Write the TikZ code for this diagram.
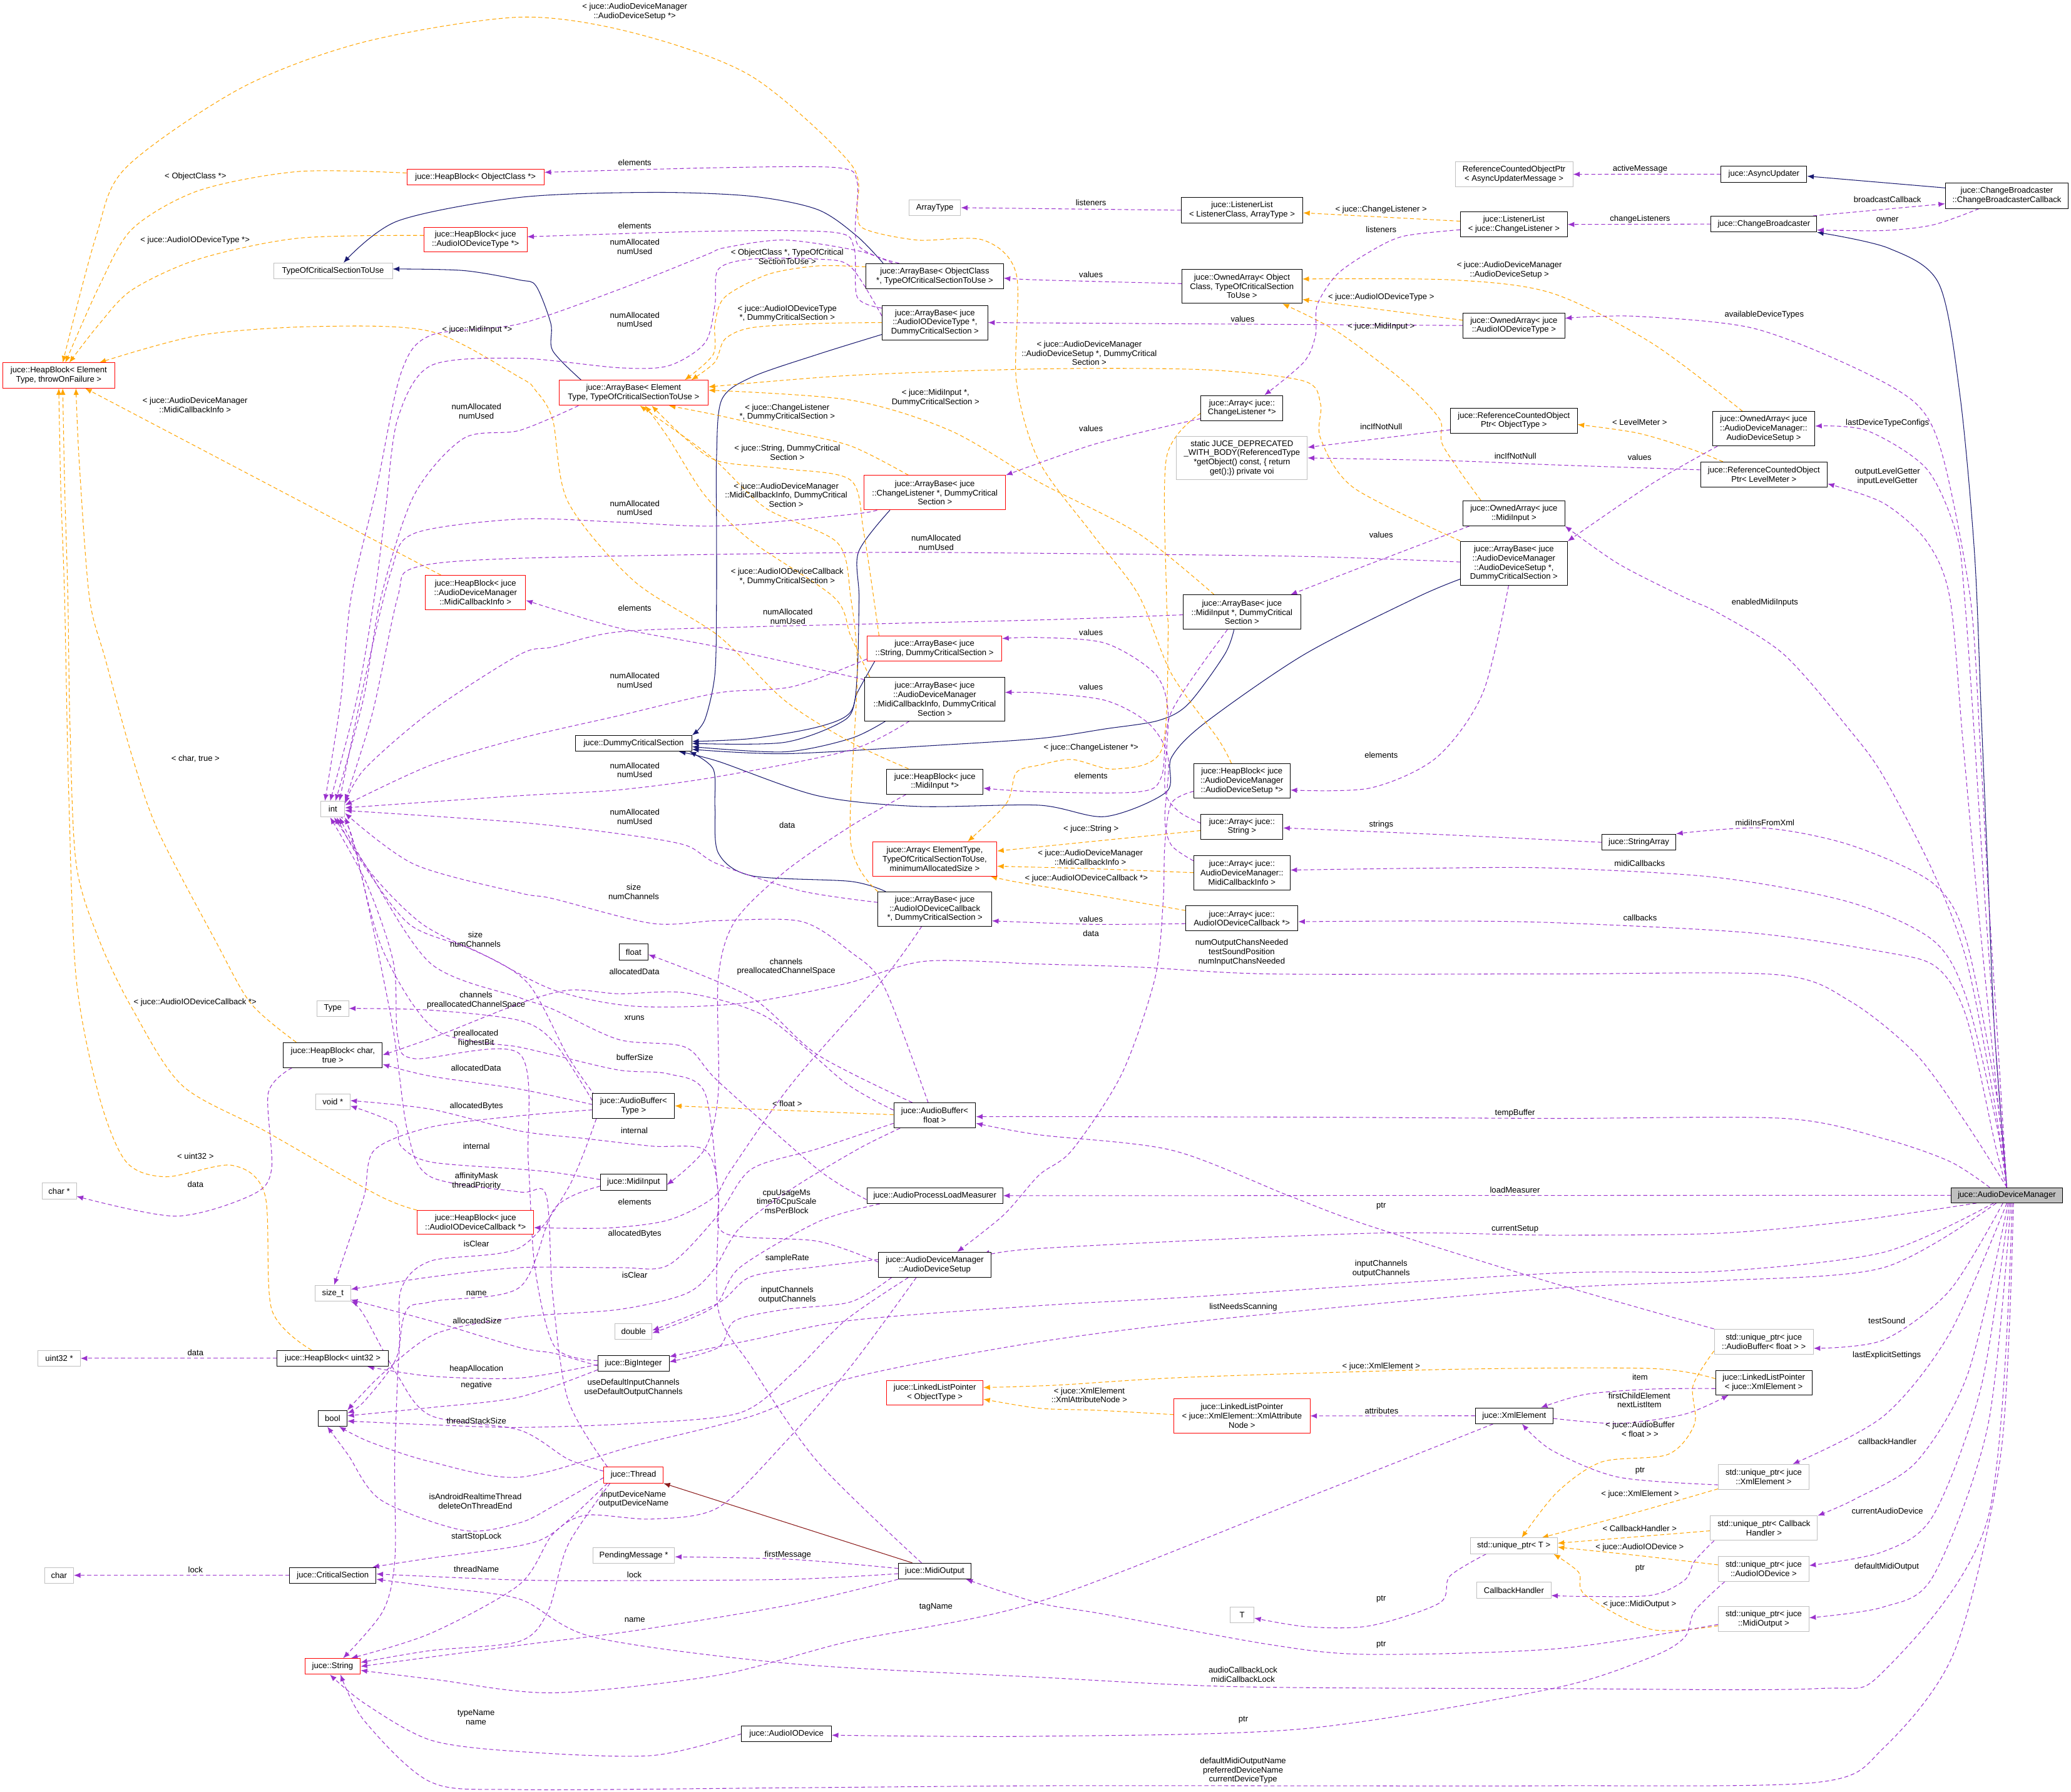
\documentclass[tikz,border=0pt]{standalone}
\usepackage{fontspec}
\setmainfont{Liberation Sans}
\usetikzlibrary{arrows.meta}
\definecolor{usec}{HTML}{9A32CD}
\definecolor{tplc}{HTML}{FFA500}
\definecolor{inhc}{HTML}{191970}
\definecolor{pinhc}{HTML}{8B1A1A}
\definecolor{grayb}{HTML}{BFBFBF}
\definecolor{redb}{HTML}{FF0000}
\pgfdeclarelayer{bg}
\pgfdeclarelayer{edges}
\pgfsetlayers{bg,edges,main}
\tikzset{
  every node/.style={font=\fontsize{6.2}{7}\selectfont},
  cls/.style={draw=black, line width=0.45pt, rectangle, inner sep=0pt, align=center, fill=white},
  gcls/.style={cls, draw=grayb},
  rcls/.style={cls, draw=redb},
  lbl/.style={align=center, inner sep=0pt},
  edgebase/.style={line width=0.5pt},
  usedge/.style={edgebase, draw=usec, dash pattern=on 3pt off 2pt, -{Latex[length=5pt,width=4pt]}},
  tpledge/.style={edgebase, draw=tplc, dash pattern=on 3pt off 2pt, -{Latex[length=5pt,width=4pt]}},
  inhedge/.style={edgebase, draw=inhc, -{Latex[length=5pt,width=4pt]}},
  pinhedge/.style={edgebase, draw=pinhc, -{Latex[length=5pt,width=4pt]}},
}
\begin{document}
\begin{tikzpicture}[x=1pt,y=-1pt]
\begin{pgfonlayer}{bg}
\fill[white] (0,0) rectangle (1568,1357);
\end{pgfonlayer}
\useasboundingbox (0,0) rectangle (1568,1357);

% ---------------- nodes ----------------
\node[cls, fill=grayb, minimum width=84pt, minimum height=11.5pt] (adm) at (1519.4,905.2) {juce::AudioDeviceManager};
\node[cls, minimum width=93pt, minimum height=19pt] (cbc) at (1519.4,148.3) {juce::ChangeBroadcaster\\::ChangeBroadcasterCallback};
\node[cls, minimum width=65pt, minimum height=12pt] (async) at (1335.5,131.9) {juce::AsyncUpdater};
\node[cls, minimum width=80pt, minimum height=12pt] (cb) at (1335.5,169.7) {juce::ChangeBroadcaster};
\node[gcls, minimum width=89pt, minimum height=19pt] (rcoau) at (1146.3,132) {ReferenceCountedObjectPtr\\< AsyncUpdaterMessage >};
\node[cls, minimum width=81pt, minimum height=19pt] (llcl) at (1146.2,170) {juce::ListenerList\\< juce::ChangeListener >};
\node[cls, minimum width=92pt, minimum height=19pt] (llgen) at (940.4,159.2) {juce::ListenerList\\< ListenerClass, ArrayType >};
\node[gcls, minimum width=39pt, minimum height=12pt] (arraytype) at (707.8,157.3) {ArrayType};
\node[cls, minimum width=91pt, minimum height=26pt] (oagen) at (940.3,216.8) {juce::OwnedArray< Object\\Class, TypeOfCriticalSection\\ToUse >};
\node[cls, minimum width=77pt, minimum height=19pt] (oaiodt) at (1146.2,246.5) {juce::OwnedArray< juce\\::AudioIODeviceType >};
\node[cls, minimum width=77.5pt, minimum height=26pt] (oaads) at (1335.3,324.7) {juce::OwnedArray< juce\\::AudioDeviceManager::\\AudioDeviceSetup >};
\node[cls, minimum width=96pt, minimum height=19pt] (rcolm) at (1335.5,359.4) {juce::ReferenceCountedObject\\Ptr< LevelMeter >};
\node[cls, minimum width=96pt, minimum height=19pt] (rcogen) at (1146.2,318.5) {juce::ReferenceCountedObject\\Ptr< ObjectType >};
\node[gcls, minimum width=99pt, minimum height=33pt] (static) at (940.3,346.8) {static JUCE\_DEPRECATED\\\_WITH\_BODY(ReferencedType\\*getObject() const, \{ return\\get();\}) private voi};
\node[cls, minimum width=62pt, minimum height=19pt] (arrcl) at (940.3,309) {juce::Array< juce::\\ChangeListener *>};
\node[cls, minimum width=77pt, minimum height=19pt] (oami) at (1146.2,388.7) {juce::OwnedArray< juce\\::MidiInput >};
\node[cls, minimum width=81pt, minimum height=33pt] (abads) at (1146.2,426.6) {juce::ArrayBase< juce\\::AudioDeviceManager\\::AudioDeviceSetup *,\\DummyCriticalSection >};
\node[cls, minimum width=89pt, minimum height=26pt] (abmi) at (940.3,463.6) {juce::ArrayBase< juce\\::MidiInput *, DummyCritical\\Section >};
\node[cls, minimum width=73pt, minimum height=26pt] (hbads) at (940.3,591.3) {juce::HeapBlock< juce\\::AudioDeviceManager\\::AudioDeviceSetup *>};
\node[cls, minimum width=62pt, minimum height=19pt] (arrstr) at (940.3,626) {juce::Array< juce::\\String >};
\node[cls, minimum width=73pt, minimum height=26pt] (arrmci) at (940.3,660.9) {juce::Array< juce::\\AudioDeviceManager::\\MidiCallbackInfo >};
\node[cls, minimum width=85pt, minimum height=19pt] (arraiodc) at (940.2,695.5) {juce::Array< juce::\\AudioIODeviceCallback *>};
\node[cls, minimum width=56pt, minimum height=12pt] (strarr) at (1240.8,637.9) {juce::StringArray};
\node[rcls, minimum width=113pt, minimum height=19pt] (abgen) at (479.7,297.5) {juce::ArrayBase< Element\\Type, TypeOfCriticalSectionToUse >};
\node[cls, minimum width=104pt, minimum height=19pt] (aboc) at (707.7,209.1) {juce::ArrayBase< ObjectClass\\*, TypeOfCriticalSectionToUse >};
\node[cls, minimum width=80pt, minimum height=26pt] (abiodt) at (707.9,244.3) {juce::ArrayBase< juce\\::AudioIODeviceType *,\\DummyCriticalSection >};
\node[rcls, minimum width=107pt, minimum height=26pt] (abcl) at (707.8,373.1) {juce::ArrayBase< juce\\::ChangeListener *, DummyCritical\\Section >};
\node[rcls, minimum width=102pt, minimum height=19pt] (abstr) at (707.5,491.1) {juce::ArrayBase< juce\\::String, DummyCriticalSection >};
\node[cls, minimum width=106pt, minimum height=33pt] (abmci) at (707.7,529.4) {juce::ArrayBase< juce\\::AudioDeviceManager\\::MidiCallbackInfo, DummyCritical\\Section >};
\node[cls, minimum width=73pt, minimum height=19pt] (hbmi) at (707.8,591.9) {juce::HeapBlock< juce\\::MidiInput *>};
\node[rcls, minimum width=94pt, minimum height=26pt] (arrgen) at (707.7,650.5) {juce::Array< ElementType,\\TypeOfCriticalSectionToUse,\\minimumAllocatedSize >};
\node[cls, minimum width=86pt, minimum height=26pt] (abaiodc) at (707.8,688.4) {juce::ArrayBase< juce\\::AudioIODeviceCallback\\*, DummyCriticalSection >};
\node[cls, minimum width=62pt, minimum height=19pt] (abfloat) at (707.7,844.7) {juce::AudioBuffer<\\float >};
\node[cls, minimum width=103pt, minimum height=12pt] (aplm) at (707.8,905.5) {juce::AudioProcessLoadMeasurer};
\node[cls, minimum width=85pt, minimum height=19pt] (ads) at (707.7,957.8) {juce::AudioDeviceManager\\::AudioDeviceSetup};
\node[rcls, minimum width=73pt, minimum height=18.5pt] (llpgen) at (707.8,1054.6) {juce::LinkedListPointer\\< ObjectType >};
\node[cls, minimum width=55pt, minimum height=12pt] (midiout) at (707.7,1189.8) {juce::MidiOutput};
\node[cls, minimum width=68pt, minimum height=12pt] (aiod) at (595.5,1313.1) {juce::AudioIODevice};
\node[cls, minimum width=88pt, minimum height=12pt] (dcs) at (479.8,563) {juce::DummyCriticalSection};
\node[cls, minimum width=22pt, minimum height=12pt] (float) at (479.7,720.9) {float};
\node[cls, minimum width=62pt, minimum height=19pt] (abtype) at (479.7,837.5) {juce::AudioBuffer<\\Type >};
\node[cls, minimum width=50pt, minimum height=12pt] (midiin) at (479.7,895.3) {juce::MidiInput};
\node[gcls, minimum width=28pt, minimum height=12pt] (double) at (479.7,1008.5) {double};
\node[cls, minimum width=54pt, minimum height=12pt] (bigint) at (479.6,1032.4) {juce::BigInteger};
\node[rcls, minimum width=45pt, minimum height=12pt] (thread) at (479.6,1117.1) {juce::Thread};
\node[gcls, minimum width=62pt, minimum height=12pt] (pending) at (479.8,1178) {PendingMessage *};
\node[rcls, minimum width=104pt, minimum height=12pt] (hboc) at (360,134) {juce::HeapBlock< ObjectClass *>};
\node[rcls, minimum width=78pt, minimum height=18.5pt] (hbiodt) at (360,181.3) {juce::HeapBlock< juce\\::AudioIODeviceType *>};
\node[rcls, minimum width=76pt, minimum height=26pt] (hbmci) at (360,448.7) {juce::HeapBlock< juce\\::AudioDeviceManager\\::MidiCallbackInfo >};
\node[rcls, minimum width=88pt, minimum height=18pt] (hbaiodc) at (360,925.7) {juce::HeapBlock< juce\\::AudioIODeviceCallback *>};
\node[gcls, minimum width=90pt, minimum height=12pt] (tocs) at (252.1,205.2) {TypeOfCriticalSectionToUse};
\node[gcls, minimum width=18pt, minimum height=12pt] (int) at (252,612.8) {int};
\node[gcls, minimum width=24pt, minimum height=12pt] (type) at (252,763.7) {Type};
\node[cls, minimum width=75pt, minimum height=19pt] (hbchar) at (252,799) {juce::HeapBlock< char,\\true >};
\node[gcls, minimum width=26pt, minimum height=12pt] (voidp) at (252,834.5) {void *};
\node[gcls, minimum width=27pt, minimum height=12pt] (sizet) at (252,979.4) {size\_t};
\node[cls, minimum width=84pt, minimum height=12pt] (hbu32) at (251.9,1028.7) {juce::HeapBlock< uint32 >};
\node[cls, minimum width=22pt, minimum height=12pt] (bool) at (251.8,1074.2) {bool};
\node[cls, minimum width=65.5pt, minimum height=12pt] (cs) at (252,1193) {juce::CriticalSection};
\node[rcls, minimum width=42pt, minimum height=12pt] (string) at (251.8,1262) {juce::String};
\node[rcls, minimum width=85pt, minimum height=19pt] (hbgen) at (44.5,284.3) {juce::HeapBlock< Element\\Type, throwOnFailure >};
\node[gcls, minimum width=26pt, minimum height=12pt] (charp) at (44.8,902) {char *};
\node[gcls, minimum width=32pt, minimum height=12pt] (u32p) at (44.8,1028.7) {uint32 *};
\node[gcls, minimum width=22pt, minimum height=12pt] (char) at (44.7,1193) {char};
\node[cls, minimum width=59pt, minimum height=12pt] (xml) at (1146.4,1072.2) {juce::XmlElement};
\node[rcls, minimum width=103pt, minimum height=26pt] (llpxan) at (940.3,1072.3) {juce::LinkedListPointer\\< juce::XmlElement::XmlAttribute\\Node >};
\node[gcls, minimum width=66pt, minimum height=12pt] (uptrT) at (1146.1,1170.7) {std::unique\_ptr< T >};
\node[gcls, minimum width=56pt, minimum height=12pt] (cbh) at (1146.2,1204.3) {CallbackHandler};
\node[gcls, minimum width=18pt, minimum height=12pt] (T) at (940.4,1222.9) {T};
\node[gcls, minimum width=75pt, minimum height=19pt] (upab) at (1335.4,1016.1) {std::unique\_ptr< juce\\::AudioBuffer< float > >};
\node[cls, minimum width=73pt, minimum height=18.5pt] (llpxml) at (1335.4,1047.1) {juce::LinkedListPointer\\< juce::XmlElement >};
\node[gcls, minimum width=68.5pt, minimum height=19pt] (upxml) at (1335.3,1118.5) {std::unique\_ptr< juce\\::XmlElement >};
\node[gcls, minimum width=81pt, minimum height=18.5pt] (upcbh) at (1335.5,1157.3) {std::unique\_ptr< Callback\\Handler >};
\node[gcls, minimum width=68.5pt, minimum height=19pt] (upaiod) at (1335.3,1188.1) {std::unique\_ptr< juce\\::AudioIODevice >};
\node[gcls, minimum width=68.5pt, minimum height=19pt] (upmo) at (1335.3,1226.2) {std::unique\_ptr< juce\\::MidiOutput >};

% ---------------- edges ----------------
\begin{pgfonlayer}{edges}
% inheritance
\draw[inhedge] plot[smooth] coordinates {(adm.north) (1510,780) (1505,660) (1500,540) (1495,420) (1484,300) (1468,215) (1430,188) (cb.south east)};
\draw[inhedge] ([yshift=6pt]cbc.west) -- ([yshift=-1.5pt]async.east);
\draw[inhedge] plot[smooth] coordinates {([xshift=-39pt]aboc.north) (649,179) (619,158.7) (568.9,148.6) (493.6,145.7) (393.3,149.5) (301,167.4) ([xshift=8pt]tocs.north)};
\draw[inhedge] plot[smooth] coordinates {([xshift=17pt]abgen.north west) (418.4,265.5) (417.1,245.3) (405.8,216.5) (393.3,212) (351,204.9) ([yshift=1.5pt]tocs.east)};
\draw[inhedge] plot[smooth] coordinates {([yshift=-9pt]abiodt.west) (619,268.4) (568.9,285.7) (546.3,303) (542.5,346.3) (542.5,400) (542.5,452.5) (541.3,510.2) (533.7,544.9) (dcs.north east)};
\draw[inhedge] plot[smooth] coordinates {([xshift=-34pt]abcl.south) (650,418) (650.4,452.5) (649,510.2) (644,539.1) (619,550.6) (568.9,559.3) ([yshift=1.5pt]dcs.east)};
\draw[inhedge] plot[smooth] coordinates {([xshift=6pt]abstr.south west) (649,524.7) (640,545) (594,562.2) ([yshift=0pt]dcs.east)};
\draw[inhedge] plot[smooth] coordinates {([xshift=16pt]abmci.south west) (644,559.3) (594,569.4) ([yshift=-2.5pt]dcs.east)};
\draw[inhedge] plot[smooth] coordinates {([xshift=-6pt]abmi.south) (927.1,495.8) (899.5,533.3) (876.9,545.7) (836.8,552) (786.6,559.3) (700,565) (594,570.8) ([yshift=-4.5pt]dcs.east)};
\draw[inhedge] plot[smooth] coordinates {([yshift=-12pt]abads.west) (1072.5,452.5) (987.2,495.8) (912,547.7) (886.9,573.7) (883.1,599.7) (836.8,618.4) (786.6,609.8) (694.3,610.7) (619,602.6) (543.8,576.6) ([xshift=-10pt]dcs.south east)};
\draw[inhedge] plot[smooth] coordinates {([xshift=6pt]abaiodc.north west) (644,667.5) (568.9,663.2) (543.8,645.9) (541.3,611.2) (540,582.4) ([xshift=-2pt]dcs.south east)};
\draw[pinhedge] ([xshift=-17pt]midiout.north) -- (thread.south east);

% template instances
\draw[tpledge] plot[smooth] coordinates {([xshift=-8pt]hbads.north) (922,559.3) (886.9,510.2) (861.8,450.2) (826.7,404) (786.6,349.2) (769.5,288.6) (769.5,207.8) (744.4,181.8) (694.3,181.8) (654.1,173.2) (649,158.7) (644,124) (568.9,57.7) (480,25) (393.3,13) (276,31.7) (183,66.4) (95.3,127) (72.7,179) ([xshift=3pt]hbgen.north)};
\draw[tpledge] plot[smooth] coordinates {([yshift=3pt]hboc.west) (225.7,129.9) (150.5,144.3) (100.3,173.2) (75.2,216.5) ([xshift=5pt]hbgen.north)};
\draw[tpledge] plot[smooth] coordinates {([yshift=3pt]hbiodt.west) (225.7,180.4) (150.5,196.2) (100.3,219.3) (75.2,245.3) ([xshift=8pt]hbgen.north)};
\draw[tpledge] plot[smooth] coordinates {([xshift=-20pt]hbmi.north) (644,562) (594,530.4) (543.8,481.4) (480,440) (430,380) (418.4,317.5) (405,295) (393.3,285.7) (326,251) (238.3,247.3) (150.5,254) ([xshift=-12pt]hbgen.north east)};
\draw[tpledge] ([xshift=12pt]hbmci.north west) -- ([xshift=20pt]hbgen.south);
\draw[tpledge] plot[smooth] coordinates {([xshift=10pt]hbchar.north west) (190,760) (163,712.2) (120,630) (100.3,573.7) (80,500) (67.7,452.5) (60,350) ([xshift=13pt]hbgen.south)};
\draw[tpledge] plot[smooth] coordinates {(hbaiodc.north west) (285.9,905) (200.6,856.5) (137.9,822) (100.3,764.2) (75.2,712.2) (57.7,654.5) (53,550) (51.4,452.5) (49,370) ([xshift=3pt]hbgen.south)};
\draw[tpledge] plot[smooth] coordinates {([xshift=-16pt]hbu32.north) (205.7,991.7) (200.6,905) (175.6,882.5) (125.4,891.2) (95.3,879.6) (75,830) (57.7,741) (52,600) (48.9,452.5) (46,370) (hbgen.south)};
\draw[tpledge] plot[smooth] coordinates {([yshift=7pt]aboc.west) (619,201.4) (581.4,207.8) (548.8,225) (541.3,245.3) (540,268.4) ([xshift=-18pt]abgen.north east)};
\draw[tpledge] plot[smooth] coordinates {(abiodt.west) (619,245) (568.9,248.2) (548.8,256.9) (541.3,274.2) ([xshift=-13pt]abgen.north east)};
\draw[tpledge] plot[smooth] coordinates {([yshift=17pt]abads.west) (1024.9,369.4) (999.8,332) (999.8,306) (987.2,288.6) (912,280) (786.6,279.4) (644,284.3) ([yshift=4.5pt]abgen.east)};
\draw[tpledge] plot[smooth] coordinates {([xshift=-21pt]abmi.north) (861.8,404) (786.6,365.1) (719.3,326) (644,303) ([yshift=2pt]abgen.east)};
\draw[tpledge] plot[smooth] coordinates {([xshift=-20pt]abcl.north) (644,337.7) (594,326) (543.8,314.6) ([xshift=-30pt]abgen.south east)};
\draw[tpledge] plot[smooth] coordinates {([xshift=-42pt]abstr.north) (654.1,404) (644,363.6) (594,355) (543.8,349.2) (518.7,331.9) ([xshift=-43pt]abgen.south east)};
\draw[tpledge] plot[smooth] coordinates {([xshift=4pt]abmci.north west) (644,481.4) (631.6,452.5) (568.9,409.8) (533.7,375.2) (506.2,331.9) ([xshift=-48pt]abgen.south east)};
\draw[tpledge] plot[smooth] coordinates {(abaiodc.north west) (644,637.2) (649.1,510.2) (644.1,452.5) (634,411) (580,385) (538.8,346.3) ([xshift=-52pt]abgen.south east)};
\draw[tpledge] plot[smooth] coordinates {([yshift=-4pt]arrcl.west) (883.2,346.3) (883.2,452.5) (884.4,481.4) (879.4,567.9) (844.3,582.4) (811.7,575.2) (786.6,579.5) (769.5,585) (762,608.3) ([xshift=25pt]arrgen.north)};
\draw[tpledge] ([yshift=-3pt]arrstr.west) -- ([yshift=6pt]arrgen.east);
\draw[tpledge] plot[smooth] coordinates {(arrmci.west) (830,658) ([yshift=-5.5pt]arrgen.east)};
\draw[tpledge] plot[smooth] coordinates {([yshift=6pt]arraiodc.west) (830,678) (770,668) ([xshift=-5pt]arrgen.south east)};
\draw[tpledge] ([yshift=0.5pt]abfloat.west) -- (abtype.east);
\draw[tpledge] plot[smooth] coordinates {([xshift=-16pt]oaads.north) (1250.4,259.7) (1175,222) (1100,212) ([yshift=5.5pt]oagen.east)};
\draw[tpledge] ([yshift=4pt]oaiodt.west) -- ([yshift=-10pt]oagen.east);
\draw[tpledge] plot[smooth] coordinates {([xshift=-25pt]oami.north) (1092.6,337.7) (1090,317.5) (1062.5,288.6) (1012.3,251) ([xshift=-15pt]oagen.south east)};
\draw[tpledge] plot[smooth] coordinates {([xshift=-31pt]rcolm.north) (1280,340) (1240,328) ([yshift=-3pt]rcogen.east)};
\draw[tpledge] ([yshift=2.5pt]llcl.west) -- ([yshift=-2pt]llgen.east);
\draw[tpledge] plot[smooth] coordinates {([yshift=3pt]llpxml.west) (1250.4,1036.4) (1100,1037) (900,1043) (800,1049) ([yshift=3.8pt]llpgen.east)};
\draw[tpledge] plot[smooth] coordinates {([yshift=1pt]llpxan.west) (830,1068) (786.6,1066.5) ([yshift=-5pt]llpgen.east)};
\draw[tpledge] plot[smooth] coordinates {([yshift=-7pt]upab.west) (1281.8,1049.4) (1283,1078.3) (1263,1101.4) (1212.8,1107.1) (1179,1130) ([xshift=6pt]uptrT.north)};
\draw[tpledge] plot[smooth] coordinates {([yshift=-9pt]upxml.west) (1240,1145) ([xshift=-12pt]uptrT.north east)};
\draw[tpledge] ([yshift=-2pt]upcbh.west) -- ([yshift=2pt]uptrT.east);
\draw[tpledge] plot[smooth] coordinates {([yshift=3pt]upaiod.west) (1240,1178) ([yshift=-1pt]uptrT.east)};
\draw[tpledge] plot[smooth] coordinates {([yshift=-5pt]upmo.west) (1250.4,1234) (1200.3,1208) (1195.3,1190.8) ([xshift=-3pt]uptrT.south east)};

% usage: AudioDeviceManager (top)
\draw[usedge] plot[smooth] coordinates {(adm.north) (1512,780) (1505,670) (1499,560) (1491.7,452.5) (1471,346) (1451,306) (1401,277) (1325.7,248.2) (1237.9,239.5) ([yshift=5.5pt]oaiodt.east)};
\draw[usedge] plot[smooth] coordinates {(adm.north) (1510,780) (1502,670) (1495,560) (1487.4,452.5) (1481.2,404) (1458.6,355) (1413.5,326.1) ([yshift=2pt]oaads.east)};
\draw[usedge] plot[smooth] coordinates {(adm.north) (1507,780) (1496,670) (1486,560) (1476.2,452.5) (1458.6,409.8) (1426,381) ([yshift=-7pt]rcolm.east)};
\draw[usedge] plot[smooth] coordinates {(adm.north) (1508.8,827.7) (1488.7,726.7) (1463.6,660.3) (1426,588) (1401,553.5) (1350.8,495.8) (1300.6,464) (1275.5,452.5) (1225.4,427) (oami.south east)};
\draw[usedge] plot[smooth] coordinates {(adm.north) (1511.3,827.7) (1488.7,712.2) (1463.6,669) (1401,640) (1335.7,627.1) ([yshift=6.5pt]strarr.east)};
\draw[usedge] plot[smooth] coordinates {(adm.north) (1511.3,850) (1488.7,755.5) (1463.6,712.2) (1401,683.4) (1300.6,664.6) (1175.2,657.4) (1080,657.5) ([yshift=2pt]arrmci.east)};
\draw[usedge] plot[smooth] coordinates {(adm.north) (1511.3,870) (1488.7,770) (1466,732.4) (1426,720.9) (1325.7,706.5) (1175.2,698.7) (1080,697.5) ([yshift=-2.5pt]arraiodc.east)};
\draw[usedge] plot[smooth] coordinates {(adm.north) (1488.7,850.8) (1451,798.8) (1401,758.4) (1345.8,738.2) (1175.2,737.6) (962.2,737.6) (861.8,732.4) (786.6,730.1) (700,728) (640,745) (560,760) (480,762) (420,750) (370,725) (320,700) (280,660) ([xshift=5pt]int.south)};
\draw[usedge] plot[smooth] coordinates {([xshift=-13pt]adm.north) (1476.2,879.6) (1426,862.3) (1350.8,847) (1175.2,847) (980,846) (786.6,845.6) ([yshift=-1pt]abfloat.east)};
\draw[usedge] (adm.west) -- (aplm.east);
% usage: AudioDeviceManager (bottom)
\draw[usedge] plot[smooth] coordinates {([xshift=-23pt]adm.south) (1400,925) (1300.6,934) (1175.2,935.4) (1036.4,934) (786.6,945.5) ([yshift=6pt]ads.east)};
\draw[usedge] plot[smooth] coordinates {([xshift=-10pt]adm.south) (1426,948.4) (1300.6,962.8) (1175.2,964.3) (912,981.6) (786.6,988.8) (644,1000) (568.9,1014.8) ([yshift=5pt]bigint.east)};
\draw[usedge] plot[smooth] coordinates {([xshift=-8pt]adm.south) (1426,960) (1300,970) (1175.2,975.8) (941.3,997) (786.6,1016.2) (644,1043.6) (568.9,1072.5) (480,1095) (393.3,1118.7) (326,1107) (280,1092) ([xshift=5pt]bool.south)};
\draw[usedge] plot[smooth] coordinates {([xshift=-3pt]adm.south) (1476.2,977.2) (1426,1014.8) ([yshift=-5pt]upab.east)};
\draw[usedge] plot[smooth] coordinates {(adm.south) (1476,1010) (1426,1072.5) ([xshift=22pt]upxml.north)};
\draw[usedge] plot[smooth] coordinates {([xshift=1pt]adm.south) (1490,1040) (1451,1107) (1405,1135) (upcbh.north east)};
\draw[usedge] plot[smooth] coordinates {([xshift=2pt]adm.south) (1500,1050) (1463.6,1147.8) (1426,1175) ([yshift=2.5pt]upaiod.east)};
\draw[usedge] plot[smooth] coordinates {([xshift=3pt]adm.south) (1505,1080) (1463.6,1193.7) (1426,1217) ([yshift=1pt]upmo.east)};
\draw[usedge] plot[smooth] coordinates {([xshift=4pt]adm.south) (1505,1150) (1426,1265.8) (1375.8,1278.8) (1175.2,1278.8) (937.9,1277.4) (786.6,1270.2) (600,1260) (450,1240) (393.3,1211) (330,1202) ([yshift=-3pt]cs.east)};
\draw[usedge] plot[smooth] coordinates {([xshift=5pt]adm.south) (1515,1100) (1480,1250) (1426,1323.8) (1375.8,1349.8) (1175.2,1352.4) (980,1352.4) (786.6,1352.4) (590,1354) (393.3,1355.3) (326,1349.5) (276,1303.4) ([xshift=6pt]string.south)};

% usage: upper region
\draw[usedge] (cb.west) -- (llcl.east);
\draw[usedge] ([xshift=-3pt]cb.north east) -- ([yshift=-6pt]cbc.west);
\draw[usedge] plot[smooth] coordinates {([xshift=-21pt]cbc.south) (1463.6,170.3) (1426,174.6) ([yshift=-4.5pt]cb.east)};
\draw[usedge] (async.west) -- (rcoau.east);
\draw[usedge] (llgen.west) -- (arraytype.east);
\draw[usedge] plot[smooth] coordinates {([yshift=-4pt]llcl.west) (1062.5,178.9) (1037.4,190.5) (1012.3,207.8) (997.3,230.9) (996,254) (987.2,274.2) ([xshift=17pt]arrcl.north)};
\draw[usedge] plot[smooth] coordinates {([yshift=2pt]oagen.west) (786.6,212) ([yshift=-1.5pt]aboc.east)};
\draw[usedge] (oaiodt.west) -- (abiodt.east);
\draw[usedge] plot[smooth] coordinates {([yshift=-8pt]arrcl.west) (830,336) (abcl.north east)};
\draw[usedge] plot[smooth] coordinates {([xshift=5pt]oami.south west) (1037.4,427) ([xshift=-8pt]abmi.north east)};
\draw[usedge] plot[smooth] coordinates {([xshift=4pt]oaads.south west) (1250.4,366.5) (abads.north east)};
\draw[usedge] ([yshift=-7pt]rcogen.west) -- ([yshift=8pt]static.east);
\draw[usedge] plot[smooth] coordinates {([yshift=3.6pt]rcolm.west) (1175,352) (1100,349) (static.east)};
\draw[usedge] plot[smooth] coordinates {([xshift=-27pt]aboc.north) (649,184.7) (649.1,138.5) (634,127) (543.8,127) ([yshift=3.5pt]hboc.east)};
\draw[usedge] plot[smooth] coordinates {([yshift=11pt]abiodt.west) (649,225) (646.6,187.6) (631.6,176) (543.8,175) ([yshift=2pt]hbiodt.east)};
\draw[usedge] plot[smooth] coordinates {([yshift=-2pt]abmci.north west) (543.8,490) (468.5,475.6) ([yshift=-6pt]hbmci.east)};
\draw[usedge] plot[smooth] coordinates {([xshift=-11pt]abmi.south) (886.9,539.1) (879.4,588.1) (861.8,599.7) (786.6,599.7) ([yshift=-5pt]hbmi.east)};
\draw[usedge] plot[smooth] coordinates {([xshift=-4pt]abads.south) (1122.7,524.7) (1087.6,573.7) (1037.4,596.8) ([yshift=-7pt]hbads.east)};
\draw[usedge] plot[smooth] coordinates {([xshift=-10pt]abaiodc.south) (669.2,741) (600,820) (553.8,885.4) (540,907) (506,924) (460,930) ([yshift=-4pt]hbaiodc.east)};
\draw[usedge] plot[smooth] coordinates {([yshift=2.6pt]arrstr.west) (891.9,614.1) (881.9,596.8) (884.4,539.1) (874.4,510.2) (836.8,487.1) (786.6,482.8) ([yshift=7.5pt]abstr.east)};
\draw[usedge] plot[smooth] coordinates {([yshift=9pt]arrmci.west) (886.9,640.1) (881.9,619.9) (884.4,573.7) (869.4,547.7) (836.8,530.4) (786.6,524.7) ([yshift=5pt]abmci.east)};
\draw[usedge] plot[smooth] coordinates {([yshift=-4pt]arraiodc.west) (826,700) ([yshift=-9pt]abaiodc.east)};
\draw[usedge] plot[smooth] coordinates {(strarr.west) (1090,632) ([yshift=-1pt]arrstr.east)};
\draw[usedge] plot[smooth] coordinates {([yshift=-8pt]hbads.west) (886.9,608.3) (881.9,640) (880.6,683.4) (874.4,741) (849.3,813.3) (811.7,871) (786.6,890) (760,920) ([xshift=17pt]ads.north)};
\draw[usedge] plot[smooth] coordinates {([xshift=15pt]hbmi.south west) (644,625.7) (594,660.3) (556.3,697.8) (543.8,741) (543.8,827.7) (533.7,870) ([yshift=-2pt]midiin.east)};

% usage: to int
\draw[usedge] plot[smooth] coordinates {([xshift=-32pt]aboc.north) (650,190) (594,181.8) (548.8,187.6) (533.7,193.4) (468.5,219.3) (393.3,245.3) (326,254) (303.5,282.8) (285,370) (265.8,452.5) (258,530) ([xshift=-6pt]int.north)};
\draw[usedge] plot[smooth] coordinates {([yshift=5pt]abiodt.west) (644,202) (619,196.2) (568.9,196.2) (543.8,204) (541.3,230.9) (533.7,259.7) (506.2,277) (468.5,278.5) (393.3,271.3) (326,277) (301,317.5) (292,385) (283.4,452.5) (270,530) ([xshift=-2pt]int.north)};
\draw[usedge] plot[smooth] coordinates {([xshift=15pt]abgen.south west) (393.3,326) (351,332) (313.5,375) (288.4,452.5) (275,530) ([xshift=2pt]int.north)};
\draw[usedge] plot[smooth] coordinates {([xshift=10pt]abcl.south west) (644,389.6) (543.8,398.3) (468.5,395.4) (393.3,393.1) (313.5,404) (296,433) (275,520) ([xshift=5pt]int.north)};
\draw[usedge] plot[smooth] coordinates {([yshift=1pt]abads.west) (987.2,421.4) (786.6,419) (644,418.5) (393.3,422.8) (313.5,430) (301,452.5) (282,540) (int.north east)};
\draw[usedge] plot[smooth] coordinates {([yshift=-2pt]abmi.west) (786.6,469.5) (568.9,474.7) (468.5,478.5) (418.4,490) (393.3,495.8) (326,539) (276,582.4) ([yshift=-2pt]int.north east)};
\draw[usedge] plot[smooth] coordinates {([yshift=-8pt]abstr.west) (600,520) (543.8,524.7) (468.5,542) (393.3,559.3) (326,579.5) ([yshift=3pt]int.east)};
\draw[usedge] plot[smooth] coordinates {([xshift=34pt]abmci.south west) (644,568) (543.8,588.1) (468.5,598.2) (393.3,602.6) ([yshift=1pt]int.east)};
\draw[usedge] plot[smooth] coordinates {([yshift=5pt]abaiodc.west) (606.5,674.7) (543.8,654.5) (518.7,640) (468.5,631.4) (393.3,622.8) ([yshift=-1pt]int.east)};
\draw[usedge] plot[smooth] coordinates {([xshift=2pt,yshift=-2pt]abtype.north west) (430,800) (400,745) (360,720) (310,700) (272,650) ([xshift=3pt]int.south)};
\draw[usedge] plot[smooth] coordinates {([xshift=-5pt]abfloat.north) (669.2,746.9) (644,720.9) (606.5,697.8) (543.8,697.2) (493.6,699.3) (418.4,680.5) (393.3,676.2) (313.5,654.5) ([yshift=-3pt]int.east)};
\draw[usedge] plot[smooth] coordinates {([xshift=3pt]thread.north west) (430,1060) (418.4,980) (413.4,905) (393.3,902.7) (326,891.2) (308.5,856.5) (296,770) (265.8,631.4) ([xshift=-4pt]int.south)};
\draw[usedge] plot[smooth] coordinates {([yshift=2pt]bigint.west) (420,1020) (405,960) (400,880) (393.3,798) (313.5,801.7) (301,784.4) (298,729.6) (278,670) ([xshift=-2pt]int.south)};
\draw[usedge] plot[smooth] coordinates {([yshift=-3pt]aplm.west) (619,885.4) (543.8,819) (518.7,793) (468.5,787.3) (418.4,764.2) (393.3,755.5) (326,729.6) (276,654.5) ([xshift=1pt]int.south)};
\draw[usedge] plot[smooth] coordinates {([yshift=2pt]ads.west) (619,940) (548.8,934) (543.8,902.7) (533.7,827.7) (506.2,813.3) (468.5,810.4) (418.4,798.8) (393.3,793) (330,780) (290,720) (268,640) (int.south east)};

% usage: lower-left types
\draw[usedge] plot[smooth] coordinates {([yshift=-3pt]abtype.west) (393.3,845) (326,853.6) (283.4,871) (275.9,905) (263.3,942.6) ([xshift=1pt]sizet.north)};
\draw[usedge] plot[smooth] coordinates {([yshift=-6pt]abfloat.west) (619,870) (568.9,885.4) (543.8,920) (506.2,958) (468.5,960) (393.3,960) (326,967.1) ([yshift=3pt]sizet.east)};
\draw[usedge] plot[smooth] coordinates {([yshift=-2pt]bigint.west) (420,1025) (393.3,1020.5) (326,1000.3) ([yshift=-5pt]sizet.east)};
\draw[usedge] plot[smooth] coordinates {([yshift=3pt]thread.west) (430,1105) (393.3,1083) (326,1072) (300,1040) (275,995) (sizet.south east)};
\draw[usedge] plot[smooth] coordinates {([xshift=3pt]abtype.south west) (430,900) (393.3,945) (326,955) (303.5,977) (301,1026) (276,1061) ([yshift=4pt]bool.east)};
\draw[usedge] plot[smooth] coordinates {([xshift=5pt]abfloat.south west) (650,870) (600,900) (560,930) (540,962) (518.7,980) (468.5,991.7) (393.3,997.5) (330,1010) (290,1040) (bool.north east)};
\draw[usedge] plot[smooth] coordinates {([yshift=-5pt]bigint.west) (393.3,1058) (326,1066) ([yshift=2pt]bool.east)};
\draw[usedge] plot[smooth] coordinates {([xshift=-20pt]ads.south) (640,1000) (600,1040) (560,1070) (480,1078) (393.3,1081) (326,1079) ([yshift=-2pt]bool.east)};
\draw[usedge] plot[smooth] coordinates {([yshift=-2pt]thread.west) (420,1140) (393.3,1153.3) (351,1159) (288.4,1136) (263.3,1101.4) ([xshift=-4pt]bool.south)};
\draw[usedge] plot[smooth] coordinates {([yshift=-3pt]midiin.west) (420,915) (393.3,975) (326,985.9) (305,1000) (299,1100) (299,1180) (290,1220) ([xshift=8pt]string.north)};
\draw[usedge] plot[smooth] coordinates {([xshift=5pt]thread.south west) (430,1170) (415,1220) (393.3,1243) (326,1250) ([yshift=3pt]string.east)};
\draw[usedge] plot[smooth] coordinates {([xshift=-14pt]ads.south) (644,1035) (594,1092.7) (543.8,1141.7) (493.6,1150.4) (443.5,1147.5) (418.4,1162) (393.3,1200) (326,1237) ([xshift=14pt]string.north)};
\draw[usedge] plot[smooth] coordinates {(midiout.south west) (600,1215) (480,1235) (393.3,1246) (string.east)};
\draw[usedge] plot[smooth] coordinates {([xshift=-16pt]xml.south) (1000,1130) (786.6,1213) (644,1242.8) (543.8,1268.6) (418.4,1282) (330,1272) ([yshift=-3pt]string.east)};
\draw[usedge] plot[smooth] coordinates {(aiod.west) (493.6,1329.5) (393.3,1326.5) (326,1317.8) (276,1290) ([xshift=-2pt]string.south)};
\draw[usedge] plot[smooth] coordinates {([xshift=3pt]thread.south west) (420,1160) (393.3,1170.6) (326,1180) ([xshift=-3pt]cs.north east)};
\draw[usedge] plot[smooth] coordinates {([yshift=-2pt]midiout.west) (600,1196) (480.3,1197) (393.3,1196.6) ([yshift=1pt]cs.east)};
\draw[usedge] (cs.west) -- (char.east);
\draw[usedge] plot[smooth] coordinates {([yshift=2pt]midiin.west) (420,888) (393.3,885.4) (326,880) (303.5,868) (298.5,850.8) ([yshift=-3pt]voidp.east)};
\draw[usedge] plot[smooth] coordinates {([xshift=-10pt]midiout.north) (619,1107) (568.9,1035) (543.8,991.7) (543.8,905.1) (533.7,870.9) (493.6,868) (443.5,862.3) (393.3,856.5) (326,840) ([yshift=1pt]voidp.east)};
\draw[usedge] plot[smooth] coordinates {([yshift=4pt]abtype.west) (420,790) (393.3,772.8) (326,765) (type.east)};
\draw[usedge] plot[smooth] coordinates {([xshift=-17pt]abfloat.north) (619,798.8) (568.9,755.5) ([yshift=-2pt]float.east)};
\draw[usedge] plot[smooth] coordinates {([yshift=1pt]abtype.west) (393.3,824.8) (326,815) ([yshift=-7pt]hbchar.east)};
\draw[usedge] plot[smooth] coordinates {([yshift=4pt]abfloat.west) (640,820) (580,770) (520,752) (468.5,752.6) (431,749.8) (393.3,760) (330,785) (hbchar.east)};
\draw[usedge] plot[smooth] coordinates {([xshift=-31pt]hbchar.south) (203.1,827.7) (205.6,885.4) (190.6,905) (132.9,921) ([yshift=-4pt]charp.east)};
\draw[usedge] (hbu32.west) -- (u32p.east);
\draw[usedge] plot[smooth] coordinates {([yshift=-1pt]bigint.west) (393.3,1043.6) (326,1042.2) ([xshift=-16pt]hbu32.south east)};
\draw[usedge] plot[smooth] coordinates {([yshift=4pt]ads.west) (619,959.3) (568.9,966.7) (543.8,986.9) ([yshift=1pt]double.east)};
\draw[usedge] plot[smooth] coordinates {([xshift=10pt]aplm.south west) (620,925) (560,960) (540,990) ([yshift=-1pt]double.east)};
\draw[usedge] plot[smooth] coordinates {([xshift=10pt]ads.south west) (644,986) (594,991.7) (556.3,1000.3) (543.8,1020.5) ([yshift=1pt]bigint.east)};
\draw[usedge] plot[smooth] coordinates {([yshift=2pt]midiout.west) (600,1181) ([yshift=-1pt]pending.east)};

% usage: xml / unique_ptr region
\draw[usedge] (xml.west) -- (llpxan.east);
\draw[usedge] plot[smooth] coordinates {([yshift=-2pt]xml.east) (1225.4,1078) (1275.5,1071) ([xshift=10pt]llpxml.south west)};
\draw[usedge] plot[smooth] coordinates {([yshift=-4.5pt]llpxml.west) (1250,1052) (1200.3,1056) ([xshift=-9.5pt]xml.north east)};
\draw[usedge] plot[smooth] coordinates {([yshift=-6pt]upxml.west) (1225.4,1118.7) (1175.2,1098.5) ([xshift=6pt]xml.south)};
\draw[usedge] plot[smooth] coordinates {([xshift=-21pt]uptrT.south) (1097.6,1193.7) (1090,1213.9) (1037.4,1231.2) (990,1232) ([yshift=-2.5pt]T.east)};
\draw[usedge] plot[smooth] coordinates {([xshift=3pt]upcbh.south west) (1283,1182.2) (1275.5,1196.6) (1250.4,1208.1) (1200,1209) ([yshift=-4pt]cbh.east)};
\draw[usedge] plot[smooth] coordinates {([xshift=5pt]upaiod.south west) (1283,1220) (1275.5,1239.9) (1250,1255) (1175.2,1278.8) (987.2,1309.2) (786.6,1314.9) ([yshift=-1pt]aiod.east)};
\draw[usedge] plot[smooth] coordinates {([yshift=-4pt]upmo.west) (1179.9,1248.5) (1036.4,1252.9) (962.2,1245.6) (836.8,1222.6) (786.6,1214) ([xshift=-4pt]midiout.south east)};
\draw[usedge] plot[smooth] coordinates {(upab.north west) (1175.2,971.5) (1036.4,928.2) (974.7,905.1) (886.9,871) (786.6,859.4) ([yshift=-6pt]abfloat.east)};
\end{pgfonlayer}

% ---------------- labels ----------------
\node[lbl] (l001) at (480.6,8.9) {< juce::AudioDeviceManager\\::AudioDeviceSetup *>};
\node[lbl] (l002) at (148,133.6) {< ObjectClass *>};
\node[lbl] (l003) at (147.7,181.8) {< juce::AudioIODeviceType *>};
\node[lbl] (l004) at (361.2,249.9) {< juce::MidiInput *>};
\node[lbl] (l005) at (147.7,306.8) {< juce::AudioDeviceManager\\::MidiCallbackInfo >};
\node[lbl] (l006) at (360.7,311.4) {numAllocated\\numUsed};
\node[lbl] (l007) at (480.6,122.9) {elements};
\node[lbl] (l008) at (480.6,170.8) {elements};
\node[lbl] (l009) at (480.6,187) {numAllocated\\numUsed};
\node[lbl] (l010) at (596,194.5) {< ObjectClass *, TypeOfCritical\\SectionToUse >};
\node[lbl] (l011) at (480.6,242.1) {numAllocated\\numUsed};
\node[lbl] (l012) at (596,237.5) {< juce::AudioIODeviceType\\*, DummyCriticalSection >};
\node[lbl] (l013) at (708.3,301.3) {< juce::MidiInput *,\\DummyCriticalSection >};
\node[lbl] (l014) at (596,312.3) {< juce::ChangeListener\\*, DummyCriticalSection >};
\node[lbl] (l015) at (596,342.9) {< juce::String, DummyCritical\\Section >};
\node[lbl] (l016) at (595.2,374.9) {< juce::AudioDeviceManager\\::MidiCallbackInfo, DummyCritical\\Section >};
\node[lbl] (l017) at (480.6,384.7) {numAllocated\\numUsed};
\node[lbl] (l018) at (708.8,411) {numAllocated\\numUsed};
\node[lbl] (l019) at (596,436.7) {< juce::AudioIODeviceCallback\\*, DummyCriticalSection >};
\node[lbl] (l020) at (826,153.5) {listeners};
\node[lbl] (l021) at (1045.7,159) {< juce::ChangeListener >};
\node[lbl] (l022) at (1045.7,174) {listeners};
\node[lbl] (l023) at (826,207.8) {values};
\node[lbl] (l024) at (1142.8,204.6) {< juce::AudioDeviceManager\\::AudioDeviceSetup >};
\node[lbl] (l025) at (1045.7,225.1) {< juce::AudioIODeviceType >};
\node[lbl] (l026) at (940.8,241.8) {values};
\node[lbl] (l027) at (1045.7,247.6) {< juce::MidiInput >};
\node[lbl] (l028) at (824.7,267.5) {< juce::AudioDeviceManager\\::AudioDeviceSetup *, DummyCritical\\Section >};
\node[lbl] (l029) at (1045.7,323.2) {incIfNotNull};
\node[lbl] (l030) at (826,324.4) {values};
\node[lbl] (l031) at (1147.3,345.2) {incIfNotNull};
\node[lbl] (l032) at (1045.7,404.9) {values};
\node[lbl] (l033) at (1241.7,128.1) {activeMessage};
\node[lbl] (l034) at (1429,151.2) {broadcastCallback};
\node[lbl] (l035) at (1241.7,165.9) {changeListeners};
\node[lbl] (l036) at (1429,166.5) {owner};
\node[lbl] (l037) at (1335.7,238.4) {availableDeviceTypes};
\node[lbl] (l038) at (1241.4,320) {< LevelMeter >};
\node[lbl] (l039) at (1429,320.3) {lastDeviceTypeConfigs};
\node[lbl] (l040) at (1241.4,346.3) {values};
\node[lbl] (l041) at (1429,360.8) {outputLevelGetter\\inputLevelGetter};
\node[lbl] (l042) at (148,574.6) {< char, true >};
\node[lbl] (l043) at (359.9,711.4) {size\\numChannels};
\node[lbl] (l044) at (147.7,759.3) {< juce::AudioIODeviceCallback *>};
\node[lbl] (l045) at (360.4,757.5) {channels\\preallocatedChannelSpace};
\node[lbl] (l046) at (360.4,786.4) {preallocated\\highestBit};
\node[lbl] (l047) at (360.4,808.9) {allocatedData};
\node[lbl] (l048) at (360.7,837.8) {allocatedBytes};
\node[lbl] (l049) at (360.7,867.8) {internal};
\node[lbl] (l050) at (148,875.6) {< uint32 >};
\node[lbl] (l051) at (360.7,894.6) {affinityMask\\threadPriority};
\node[lbl] (l052) at (148,896.7) {data};
\node[lbl] (l053) at (480.6,460.3) {elements};
\node[lbl] (l054) at (596.5,466.9) {numAllocated\\numUsed};
\node[lbl] (l055) at (480.6,515.4) {numAllocated\\numUsed};
\node[lbl] (l056) at (480.6,583.2) {numAllocated\\numUsed};
\node[lbl] (l057) at (480.6,618.5) {numAllocated\\numUsed};
\node[lbl] (l058) at (596,625.1) {data};
\node[lbl] (l059) at (479.8,675.3) {size\\numChannels};
\node[lbl] (l060) at (595.2,732.2) {channels\\preallocatedChannelSpace};
\node[lbl] (l061) at (480.3,735.6) {allocatedData};
\node[lbl] (l062) at (480.3,771.1) {xruns};
\node[lbl] (l063) at (480.6,800.8) {bufferSize};
\node[lbl] (l064) at (596,835.8) {< float >};
\node[lbl] (l065) at (480.3,856.3) {internal};
\node[lbl] (l066) at (595.5,910) {cpuUsageMs\\timeToCpuScale\\msPerBlock};
\node[lbl] (l067) at (826,478.8) {values};
\node[lbl] (l068) at (826,520.3) {values};
\node[lbl] (l069) at (826,566.5) {< juce::ChangeListener *>};
\node[lbl] (l070) at (1045.7,572) {elements};
\node[lbl] (l071) at (826,587.3) {elements};
\node[lbl] (l072) at (826,627.7) {< juce::String >};
\node[lbl] (l073) at (1045.7,624.8) {strings};
\node[lbl] (l074) at (825.5,649.3) {< juce::AudioDeviceManager\\::MidiCallbackInfo >};
\node[lbl] (l075) at (822.5,665.5) {< juce::AudioIODeviceCallback *>};
\node[lbl] (l076) at (826,695.8) {values};
\node[lbl] (l077) at (826,707) {data};
\node[lbl] (l078) at (940.1,721.2) {numOutputChansNeeded\\testSoundPosition\\numInputChansNeeded};
\node[lbl] (l079) at (1147,843) {tempBuffer};
\node[lbl] (l080) at (1147,901.3) {loadMeasurer};
\node[lbl] (l081) at (1336.2,456.5) {enabledMidiInputs};
\node[lbl] (l082) at (1336.2,623.1) {midiInsFromXml};
\node[lbl] (l083) at (1241.4,653.9) {midiCallbacks};
\node[lbl] (l084) at (1241.7,695.2) {callbacks};
\node[lbl] (l085) at (360.7,942) {isClear};
\node[lbl] (l086) at (360.7,979.3) {name};
\node[lbl] (l087) at (361.2,1000.1) {allocatedSize};
\node[lbl] (l088) at (148,1024.6) {data};
\node[lbl] (l089) at (360.7,1037) {heapAllocation};
\node[lbl] (l090) at (360.7,1049.4) {negative};
\node[lbl] (l091) at (360.7,1076.2) {threadStackSize};
\node[lbl] (l092) at (359.9,1136.9) {isAndroidRealtimeThread\\deleteOnThreadEnd};
\node[lbl] (l093) at (360.7,1163.7) {startStopLock};
\node[lbl] (l094) at (148,1188.8) {lock};
\node[lbl] (l095) at (360.7,1188.2) {threadName};
\node[lbl] (l096) at (360.4,1300.5) {typeName\\name};
\node[lbl] (l097) at (480.6,910) {elements};
\node[lbl] (l098) at (480.6,934.5) {allocatedBytes};
\node[lbl] (l099) at (596,953) {sampleRate};
\node[lbl] (l100) at (480.6,965.7) {isClear};
\node[lbl] (l101) at (596,980.7) {inputChannels\\outputChannels};
\node[lbl] (l102) at (479.6,1050.8) {useDefaultInputChannels\\useDefaultOutputChannels};
\node[lbl] (l103) at (479.8,1135.4) {inputDeviceName\\outputDeviceName};
\node[lbl] (l104) at (596.5,1177.5) {firstMessage};
\node[lbl] (l105) at (480.3,1192.5) {lock};
\node[lbl] (l106) at (480.6,1226.9) {name};
\node[lbl] (l107) at (708.6,1216.8) {tagName};
\node[lbl] (l108) at (1045.7,913.2) {ptr};
\node[lbl] (l109) at (1147,930.8) {currentSetup};
\node[lbl] (l110) at (1045.7,960.8) {inputChannels\\outputChannels};
\node[lbl] (l111) at (941.3,989.7) {listNeedsScanning};
\node[lbl] (l112) at (1045.7,1035) {< juce::XmlElement >};
\node[lbl] (l113) at (824.7,1056.6) {< juce::XmlElement\\::XmlAttributeNode >};
\node[lbl] (l114) at (1046,1068.4) {attributes};
\node[lbl] (l115) at (1045.7,1211) {ptr};
\node[lbl] (l116) at (1045.7,1245.6) {ptr};
\node[lbl] (l117) at (941.1,1268.2) {audioCallbackLock\\midiCallbackLock};
\node[lbl] (l118) at (941.3,1302.5) {ptr};
\node[lbl] (l119) at (941.1,1340.9) {defaultMidiOutputName\\preferredDeviceName\\currentDeviceType};
\node[lbl] (l120) at (1428.5,1000) {testSound};
\node[lbl] (l121) at (1428.5,1026.6) {lastExplicitSettings};
\node[lbl] (l122) at (1241.7,1042.8) {item};
\node[lbl] (l123) at (1241.2,1060.4) {firstChildElement\\nextListItem};
\node[lbl] (l124) at (1241.7,1082.3) {< juce::AudioBuffer\\< float > >};
\node[lbl] (l125) at (1429,1091.5) {callbackHandler};
\node[lbl] (l126) at (1241.7,1114) {ptr};
\node[lbl] (l127) at (1241.7,1131.6) {< juce::XmlElement >};
\node[lbl] (l128) at (1429,1144.4) {currentAudioDevice};
\node[lbl] (l129) at (1241.4,1157.6) {< CallbackHandler >};
\node[lbl] (l130) at (1241.4,1171.8) {< juce::AudioIODevice >};
\node[lbl] (l131) at (1428.5,1186.5) {defaultMidiOutput};
\node[lbl] (l132) at (1241.7,1187.9) {ptr};
\node[lbl] (l133) at (1241.4,1215) {< juce::MidiOutput >};
\end{tikzpicture}
\end{document}
